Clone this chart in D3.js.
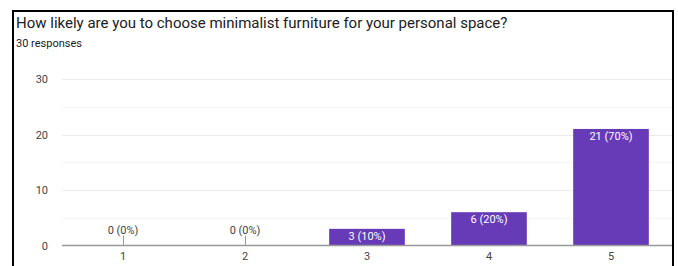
<!DOCTYPE html>
<html><head><meta charset="utf-8">
<script src="https://cdn.jsdelivr.net/npm/d3@7"></script>
<style>
html,body{margin:0;padding:0;background:#fff;}
svg{display:block;font-family:Roboto, Arial, sans-serif;}
</style></head>
<body>
<script>
const title = "How likely are you to choose minimalist furniture for your personal space?";
const subtitle = "30 responses";
const categories = ["1", "2", "3", "4", "5"];
const counts = [0, 0, 3, 6, 21];
const labels = ["0 (0%)", "0 (0%)", "3 (10%)", "6 (20%)", "21 (70%)"];
const yTicks = [0, 10, 20, 30];
const yMinor = [5, 15, 25];

const W = 678, H = 266;
const svg = d3.select("body").append("svg").attr("width", W).attr("height", H);

// frame
svg.append("path")
  .attr("d", "M13,266 V11 H673 V266")
  .attr("fill", "none").attr("stroke", "#000").attr("stroke-width", 2);

svg.append("text").attr("x", 16).attr("y", 28)
  .attr("font-size", 15).attr("fill", "#202124").text(title);
svg.append("text").attr("x", 16).attr("y", 47)
  .attr("font-size", 11).attr("fill", "#202124").text(subtitle);

const x = d3.scaleBand().domain(categories).range([62, 672]).paddingInner(0.38).paddingOuter(0.19);
const y = d3.scaleLinear().domain([0, 30]).range([245.5, 79]);

// gridlines
svg.append("g").selectAll("line").data(yMinor).join("line")
  .attr("x1", 62).attr("x2", 672)
  .attr("y1", d => Math.round(y(d)) + 0.5).attr("y2", d => Math.round(y(d)) + 0.5)
  .attr("stroke", "#f5f5f5");
svg.append("g").selectAll("line").data(yTicks.filter(d => d > 0)).join("line")
  .attr("x1", 62).attr("x2", 672)
  .attr("y1", d => Math.round(y(d)) + 0.5).attr("y2", d => Math.round(y(d)) + 0.5)
  .attr("stroke", "#ebebeb");

// y axis labels
const yAxis = d3.axisLeft(y).tickValues(yTicks).tickSize(0).tickPadding(0);
const gy = svg.append("g").attr("transform", "translate(48,0)").call(yAxis);
gy.select(".domain").remove();
gy.selectAll("text").attr("font-size", 11).attr("fill", "#444").attr("font-family", "Roboto, Arial, sans-serif");

// bars
svg.append("g").selectAll("rect").data(counts).join("rect")
  .attr("x", (d, i) => x(categories[i]))
  .attr("width", x.bandwidth())
  .attr("y", d => y(d))
  .attr("height", d => y(0) - y(d))
  .attr("fill", "#673ab7");

// labels
counts.forEach((d, i) => {
  const cx = x(categories[i]) + x.bandwidth() / 2;
  if (d === 0) {
    svg.append("line").attr("x1", Math.round(cx) + 0.5).attr("x2", Math.round(cx) + 0.5)
      .attr("y1", y(0)).attr("y2", y(0) - 10).attr("stroke", "#999");
    svg.append("text").attr("x", cx).attr("y", y(0) - 12)
      .attr("text-anchor", "middle").attr("font-size", 11).attr("fill", "#444").text(labels[i]);
  } else {
    svg.append("text").attr("x", cx).attr("y", y(d) + 11)
      .attr("text-anchor", "middle").attr("font-size", 11).attr("fill", "#fff").text(labels[i]);
  }
});

// x axis
const xAxis = d3.axisBottom(x).tickSize(0).tickPadding(7);
const gx = svg.append("g").attr("transform", `translate(0,${y(0)})`).call(xAxis);
gx.select(".domain").attr("stroke", "#999").attr("stroke-width", 1.5).attr("d", "M62,0H672");
gx.selectAll("text").attr("font-size", 11).attr("fill", "#444").attr("font-family", "Roboto, Arial, sans-serif");
</script>
</body></html>
